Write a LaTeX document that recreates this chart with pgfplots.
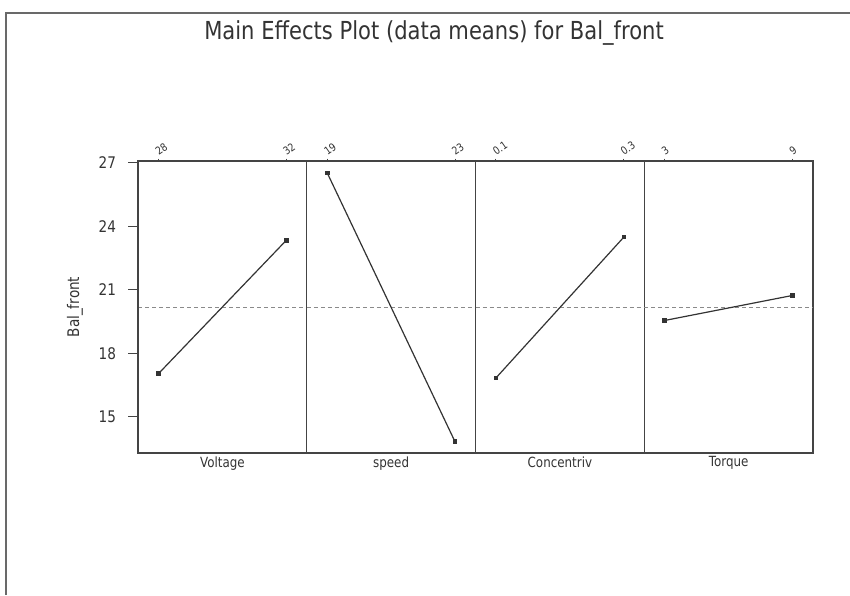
\documentclass[border=0pt]{standalone}
\usepackage{pgfplots}
\pgfplotsset{compat=1.18}
\usepackage{fontspec}
\setmainfont{DejaVu Sans}[FakeStretch=0.85]
\definecolor{ink}{HTML}{333333}
\definecolor{axisgray}{HTML}{444444}
\definecolor{meangray}{HTML}{8A8A8A}

% grand mean of Bal_front
\newcommand{\grandmean}{20.17}

\tikzset{xname/.style={anchor=north, font=\fontsize{7}{8}\selectfont, text=ink, inner sep=1.5pt}}

\pgfplotsset{
  panel/.style={
    width=84.375pt, height=146pt, scale only axis,
    ymin=13.3, ymax=27.07,
    xmin=-0.16, xmax=1.16,
    xtick={0,1},
    xtick pos=right, xticklabel pos=right,
    ytick=\empty,
    tick align=outside,
    major tick length=1.2pt,
    axis line style={draw=axisgray, line width=0.6pt},
    tick style={axisgray, line width=0.5pt},
    xticklabel style={font=\fontsize{5.4}{6}\selectfont, text=ink,
      rotate=35, anchor=south west, inner sep=0.8pt},
    /pgf/number format/assume math mode=true,
    clip=false,
  },
  means/.style={ink, line width=0.6pt, mark=square*,
    mark size=0.85pt, mark options={fill=ink, draw=ink}},
  meanline/.style={meangray, line width=0.45pt, dash pattern=on 2pt off 1.5pt},
}

\begin{document}
\begin{tikzpicture}
\path[use as bounding box] (0,0) rectangle (425pt,297.5pt);
% page frame
\draw[axisgray!80, line width=1pt] (3pt,0) -- (3pt,291pt) -- (425pt,291pt);

% title
\node[font=\fontsize{12.4}{14}\selectfont, text=ink] at (217pt,281pt)
  {Main Effects Plot (data means) for Bal\_front};

% Voltage
\begin{axis}[panel, at={(69pt,71pt)}, anchor=south west, xticklabels={28,32}]
  \addplot[meanline, forget plot] coordinates {(-0.16,\grandmean) (1.16,\grandmean)};
  \addplot[means] coordinates {(0,17.04) (1,23.33)};
  \node[xname] at (rel axis cs:0.5,0) {Voltage};
\end{axis}
% y axis with the response scale
\begin{axis}[at={(69pt,71pt)}, anchor=south west,
  width=84.375pt, height=146pt, scale only axis,
  ymin=13.3, ymax=27.07, xmin=-0.16, xmax=1.16,
  hide x axis, axis y line*=left,
  ytick={15,18,21,24,27},
  tick align=outside, major tick length=5pt,
  axis line style={draw=axisgray, line width=0.6pt, -},
  tick style={axisgray, line width=0.5pt},
  yticklabel style={font=\fontsize{8}{9}\selectfont, text=ink, xshift=-2.5pt},
  /pgf/number format/assume math mode=true]
  \addplot[draw=none] coordinates {(0,20)};
\end{axis}

% speed
\begin{axis}[panel, at={(153.375pt,71pt)}, anchor=south west, xticklabels={19,23}]
  \addplot[meanline, forget plot] coordinates {(-0.16,\grandmean) (1.16,\grandmean)};
  \addplot[means] coordinates {(0,26.51) (1,13.83)};
  \node[xname] at (rel axis cs:0.5,0) {speed};
\end{axis}

% Concentriv
\begin{axis}[panel, at={(237.75pt,71pt)}, anchor=south west, xticklabels={0.1,0.3}]
  \addplot[meanline, forget plot] coordinates {(-0.16,\grandmean) (1.16,\grandmean)};
  \addplot[means] coordinates {(0,16.84) (1,23.48)};
  \node[xname] at (rel axis cs:0.5,0) {Concentriv};
\end{axis}

% Torque
\begin{axis}[panel, at={(322.125pt,71pt)}, anchor=south west, xticklabels={3,9}]
  \addplot[meanline, forget plot] coordinates {(-0.16,\grandmean) (1.16,\grandmean)};
  \addplot[means] coordinates {(0,19.55) (1,20.73)};
  \node[xname] at (rel axis cs:0.5,0) {Torque};
\end{axis}

% response label
\node[rotate=90, font=\fontsize{8}{9}\selectfont, text=ink] at (37.5pt,144pt) {Bal\_front};
\end{tikzpicture}
\end{document}
